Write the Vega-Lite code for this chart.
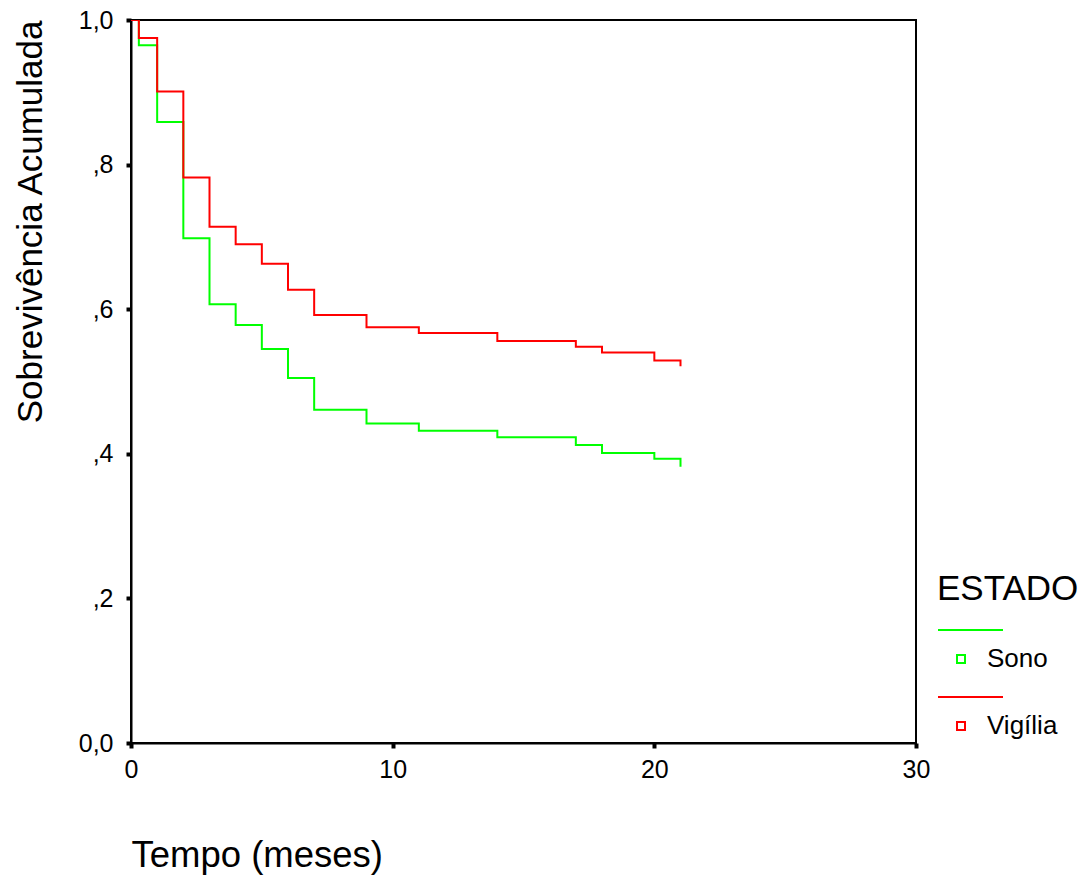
{
  "$schema": "https://vega.github.io/schema/vega-lite/v6.json",
  "autosize": "none",
  "padding": {"left": 131, "top": 20, "right": 174, "bottom": 132},
  "width": 785,
  "height": 723,
  "background": "white",
  "config": {
    "font": "Liberation Sans",
    "view": {"stroke": "black", "strokeWidth": 2}
  },
  "data": {
    "values": [
      {"t": 0, "s": 1.0, "ESTADO": "Sono"},
      {"t": 0.3, "s": 0.965, "ESTADO": "Sono"},
      {"t": 1, "s": 0.859, "ESTADO": "Sono"},
      {"t": 2, "s": 0.698, "ESTADO": "Sono"},
      {"t": 3, "s": 0.607, "ESTADO": "Sono"},
      {"t": 4, "s": 0.578, "ESTADO": "Sono"},
      {"t": 5, "s": 0.545, "ESTADO": "Sono"},
      {"t": 6, "s": 0.505, "ESTADO": "Sono"},
      {"t": 7, "s": 0.461, "ESTADO": "Sono"},
      {"t": 9, "s": 0.442, "ESTADO": "Sono"},
      {"t": 11, "s": 0.432, "ESTADO": "Sono"},
      {"t": 14, "s": 0.423, "ESTADO": "Sono"},
      {"t": 17, "s": 0.412, "ESTADO": "Sono"},
      {"t": 18, "s": 0.401, "ESTADO": "Sono"},
      {"t": 20, "s": 0.393, "ESTADO": "Sono"},
      {"t": 21, "s": 0.382, "ESTADO": "Sono"},
      {"t": 0, "s": 1.0, "ESTADO": "Vigília"},
      {"t": 0.3, "s": 0.975, "ESTADO": "Vigília"},
      {"t": 1, "s": 0.901, "ESTADO": "Vigília"},
      {"t": 2, "s": 0.782, "ESTADO": "Vigília"},
      {"t": 3, "s": 0.714, "ESTADO": "Vigília"},
      {"t": 4, "s": 0.690, "ESTADO": "Vigília"},
      {"t": 5, "s": 0.663, "ESTADO": "Vigília"},
      {"t": 6, "s": 0.627, "ESTADO": "Vigília"},
      {"t": 7, "s": 0.592, "ESTADO": "Vigília"},
      {"t": 9, "s": 0.575, "ESTADO": "Vigília"},
      {"t": 11, "s": 0.567, "ESTADO": "Vigília"},
      {"t": 14, "s": 0.556, "ESTADO": "Vigília"},
      {"t": 17, "s": 0.548, "ESTADO": "Vigília"},
      {"t": 18, "s": 0.540, "ESTADO": "Vigília"},
      {"t": 20, "s": 0.529, "ESTADO": "Vigília"},
      {"t": 21, "s": 0.521, "ESTADO": "Vigília"}
    ]
  },
  "mark": {"type": "line", "interpolate": "step-after", "strokeWidth": 2, "clip": true},
  "encoding": {
    "x": {
      "field": "t",
      "type": "quantitative",
      "scale": {"domain": [0, 30], "nice": false, "zero": false},
      "axis": {
        "title": "Tempo (meses)",
        "values": [0, 10, 20, 30],
        "grid": false,
        "domainColor": "black",
        "domainWidth": 2,
        "tickColor": "black",
        "tickWidth": 4,
        "tickSize": 5,
        "labelFontSize": 25,
        "labelColor": "black",
        "labelPadding": 9,
        "labelFlush": false,
        "titleFontSize": 36.5,
        "titleFontWeight": "normal",
        "titleColor": "black",
        "titleAnchor": "start",
        "titlePadding": 55
      }
    },
    "y": {
      "field": "s",
      "type": "quantitative",
      "scale": {"domain": [0, 1], "nice": false},
      "axis": {
        "title": "Sobrevivência Acumulada",
        "values": [0, 0.2, 0.4, 0.6, 0.8, 1],
        "labelExpr": "datum.value == 0 ? '0,0' : datum.value == 1 ? '1,0' : ',' + format(datum.value * 10, 'd')",
        "grid": false,
        "domainColor": "black",
        "domainWidth": 2,
        "tickColor": "black",
        "tickWidth": 4,
        "tickSize": 5,
        "labelFontSize": 25,
        "labelColor": "black",
        "labelPadding": 13,
        "labelFlush": false,
        "titleFontSize": 35,
        "titleFontWeight": "normal",
        "titleColor": "black",
        "titleAnchor": "end",
        "titlePadding": 30
      }
    },
    "color": {
      "field": "ESTADO",
      "type": "nominal",
      "scale": {"domain": ["Sono", "Vigília"], "range": ["#00ff00", "#ff0000"]},
      "legend": {
        "orient": "none",
        "legendX": 806,
        "legendY": 552,
        "title": "ESTADO",
        "titleFontSize": 35,
        "titleFontWeight": "normal",
        "titleColor": "black",
        "titlePadding": 39,
        "labelFontSize": 26,
        "labelColor": "black",
        "symbolType": "M-5.75,-7.25L10.5,-7.25M-1,-1L1,-1L1,1L-1,1Z",
        "symbolSize": 64,
        "symbolStrokeWidth": 2,
        "symbolFillColor": "white",
        "symbolOffset": 11,
        "labelOffset": 13,
        "rowPadding": 21,
        "padding": 0
      }
    }
  }
}
